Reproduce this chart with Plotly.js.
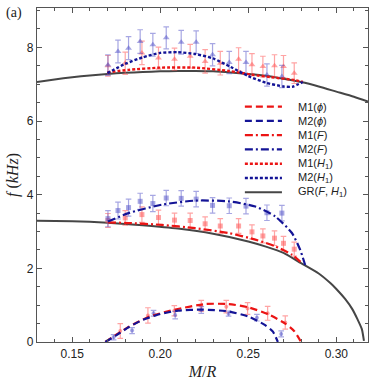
<!DOCTYPE html>
<html><head><meta charset="utf-8">
<script src="https://cdn.plot.ly/plotly-3.0.1.min.js"></script>
<style>html,body{margin:0;padding:0;background:#fff}#plot{width:376px;height:384px}</style>
</head><body><div id="plot"></div>
<script>
// ---- data ----
// GR curves
const grTopX = [0.13,0.14,0.15,0.16,0.17,0.18,0.19,0.20,0.21,0.22,0.23,0.24,0.25,0.26,0.27,0.28,0.29,0.30,0.31,0.318];
const grTopY = [7.06,7.13,7.19,7.24,7.28,7.31,7.33,7.35,7.36,7.36,7.35,7.32,7.28,7.23,7.15,7.06,6.94,6.80,6.66,6.53];
const grMidX = [0.13,0.15,0.17,0.19,0.21,0.23,0.25,0.26,0.27,0.28,0.29,0.2966,0.30,0.305,0.309,0.312,0.3145,0.3157];
const grMidY = [3.29,3.28,3.24,3.17,3.08,2.94,2.73,2.59,2.42,2.14,1.86,1.60,1.44,1.17,0.90,0.62,0.35,0.03];
// phi mode (dashed)
const m1PhiX = [0.1688,0.175,0.182,0.1933,0.2085,0.2255,0.2388,0.2502,0.2615,0.271,0.276,0.2800];
const m1PhiY = [0,0.20,0.41,0.68,0.88,1.03,1.03,0.94,0.75,0.50,0.30,0];
const m2PhiX = [0.1688,0.175,0.182,0.19,0.20,0.21,0.2237,0.2388,0.250,0.2596,0.2640,0.2668];
const m2PhiY = [0,0.18,0.40,0.60,0.76,0.85,0.88,0.83,0.69,0.46,0.28,0];
// F mode (dash-dot)
const m1FX = [0.1703,0.182,0.201,0.2199,0.2388,0.254,0.2653,0.2748,0.2805];
const m1FY = [3.25,3.23,3.18,3.09,2.96,2.78,2.60,2.37,2.14];
const m2FX = [0.1703,0.182,0.201,0.2199,0.2388,0.254,0.2653,0.2748,0.2795,0.2823];
const m2FY = [3.27,3.50,3.73,3.84,3.82,3.68,3.41,2.96,2.50,2.09];
// H1 mode (dotted)
const m1H1X = [0.17,0.182,0.20,0.22,0.239,0.252,0.263,0.2767,0.281];
const m1H1Y = [7.32,7.39,7.45,7.45,7.36,7.26,7.19,7.11,7.06];
const m2H1X = [0.170,0.18,0.19,0.20,0.21,0.22,0.23,0.24,0.25,0.26,0.27,0.275,0.281];
const m2H1Y = [7.30,7.55,7.73,7.85,7.87,7.82,7.70,7.47,7.22,7.04,6.94,6.93,7.06];
// data points with error bars
const redX = [0.1703,0.1801,0.1896,0.1990,0.2081,0.2170,0.2255,0.2341,0.2445,0.2521,0.2583,0.2649,0.2700,0.2761];
const redH1 = [7.50,7.57,7.85,7.71,7.68,7.76,7.62,7.57,7.68,7.53,7.48,7.50,7.48,7.30];
const redH1Err = [0.28,0.30,0.32,0.30,0.30,0.32,0.32,0.32,0.31,0.30,0.28,0.30,0.30,0.28];
const redF = [3.30,3.37,3.46,3.38,3.31,3.30,3.21,3.15,3.15,2.99,2.88,2.82,2.68,2.52];
const redFErr = [0.19,0.20,0.21,0.20,0.19,0.20,0.19,0.20,0.20,0.19,0.19,0.20,0.19,0.19];
const blueX = [0.1703,0.1760,0.1820,0.1886,0.1958,0.2034,0.2119,0.2204,0.2297,0.2392,0.2487,0.2606,0.2691];
const blueH1 = [7.52,7.89,7.98,8.16,8.07,8.26,8.14,8.14,7.80,7.59,7.59,7.25,7.21];
const blueH1Err = [0.28,0.31,0.31,0.32,0.31,0.30,0.32,0.31,0.30,0.30,0.30,0.30,0.30];
const blueF = [3.35,3.57,3.65,3.82,3.76,3.91,3.90,3.88,3.71,3.70,3.69,3.51,3.50];
const blueFErr = [0.22,0.23,0.23,0.22,0.22,0.21,0.21,0.21,0.21,0.21,0.21,0.21,0.21];
const redPhiX = [0.1773,0.1930,0.2080,0.2233,0.2375,0.2496,0.2610,0.2710];
const redPhi = [0.30,0.72,0.85,0.98,0.96,0.91,0.78,0.53];
const redPhiErr = [0.20,0.21,0.14,0.15,0.17,0.16,0.19,0.18];
const bluePhiX = [0.1735,0.1840,0.1962,0.2085,0.2233,0.2388,0.2549,0.2687];
const bluePhi = [0.13,0.31,0.78,0.73,0.87,0.77,0.66,0.22];
const bluePhiErr = [0.07,0.08,0.08,0.10,0.09,0.07,0.09,0.08];
// legend labels
const legendLabels = [
  'M1(<i>ϕ</i>)',
  'M2(<i>ϕ</i>)',
  'M1(<i>F</i>)',
  'M2(<i>F</i>)',
  'M1(<i>H</i><sub>1</sub>)',
  'M2(<i>H</i><sub>1</sub>)',
  'GR(<i>F</i>, <i>H</i><sub>1</sub>)'
];

// ---- styles ----
const RED = 'rgb(235,20,20)', BLUE = 'rgb(20,20,150)', GRAY = 'rgb(70,70,70)';
const RED_PT = 'rgba(255,90,90,0.55)', BLUE_PT = 'rgba(80,80,200,0.5)';
const DASH = '7px,4px', DASHDOT = '8px,3px,2px,3px', DOT = '3px,2px';

function line(x, y, color, dash, w) {
  return {x, y, type:'scatter', mode:'lines', line:{color, dash, width:w||2, shape:'spline', smoothing:0.6}, hoverinfo:'skip'};
}
function pts(x, y, err, color, symbol, size) {
  return {x, y, type:'scatter', mode:'markers',
    marker:{color, symbol, size},
    error_y:{type:'data', array:err, visible:true, color, thickness:1.2, width:2.8},
    hoverinfo:'skip'};
}

const traces = [
  line(grTopX, grTopY, GRAY, 'solid', 2),
  line(grMidX, grMidY, GRAY, 'solid', 2),
  pts(redX, redH1, redH1Err, RED_PT, 'triangle-up', 6),
  pts(blueX, blueH1, blueH1Err, BLUE_PT, 'triangle-up', 6),
  pts(redX, redF, redFErr, RED_PT, 'square', 5),
  pts(blueX, blueF, blueFErr, BLUE_PT, 'square', 5),
  pts(redPhiX, redPhi, redPhiErr, RED_PT, 'circle', 4),
  pts(bluePhiX, bluePhi, bluePhiErr, BLUE_PT, 'circle', 4),
  line(m1H1X, m1H1Y, RED, DOT, 2.4),
  line(m2H1X, m2H1Y, BLUE, DOT, 2.4),
  line(m1FX, m1FY, RED, DASHDOT, 2.2),
  line(m2FX, m2FY, BLUE, DASHDOT, 2.2),
  line(m1PhiX, m1PhiY, RED, DASH, 2.2),
  line(m2PhiX, m2PhiY, BLUE, DASH, 2.2)
];

// legend (drawn manually, compact spacing as in the reference)
const legendStyles = [[RED,DASH,2.2],[BLUE,DASH,2.2],[RED,DASHDOT,2.2],[BLUE,DASHDOT,2.2],[RED,DOT,2.4],[BLUE,DOT,2.4],[GRAY,'solid',2]];
const legTop = 0.705, legStep = 0.0428;
const shapes = [], annotations = [];
legendLabels.forEach((lab, i) => {
  const yy = legTop - i*legStep;
  const st = legendStyles[i];
  shapes.push({type:'line', xref:'paper', yref:'paper', x0:0.628, x1:0.74, y0:yy, y1:yy,
    line:{color:st[0], dash:st[1], width:st[2]}});
  annotations.push({xref:'paper', yref:'paper', x:0.783, y:yy, xanchor:'left', yanchor:'middle',
    text:lab, showarrow:false, font:{family:'Liberation Sans, Arial', size:11, color:'#222'}});
});
annotations.push({xref:'paper', yref:'paper', x:-0.07, y:0.985, xanchor:'center', yanchor:'middle',
  text:'(a)', showarrow:false, font:{family:'Liberation Serif, Times New Roman', size:14, color:'#222'}});

const axCommon = {
  showgrid:false, zeroline:false, showline:true, linecolor:'#555', linewidth:1.2,
  mirror:'ticks', ticks:'inside', ticklen:5, tickcolor:'#555', tickwidth:1,
  tickfont:{family:'Liberation Sans, Arial', size:12, color:'#222'}
};

const layout = {
  width:376, height:384,
  margin:{l:37, r:8, t:8, b:42},
  paper_bgcolor:'#fff', plot_bgcolor:'#fff',
  showlegend:false,
  xaxis: Object.assign({}, axCommon, {
    range:[0.13, 0.318], tick0:0.15, dtick:0.05, tickformat:'.2f',
    minor:{ticks:'inside', ticklen:3, dtick:0.01, tick0:0.13, tickcolor:'#555'},
    title:{text:'<i>M</i>/<i>R</i>', font:{family:'Liberation Serif, Times New Roman', size:16, color:'#222'}, standoff:6}
  }),
  yaxis: Object.assign({}, axCommon, {
    range:[0, 9.07], tick0:0, dtick:2,
    minor:{ticks:'inside', ticklen:3, dtick:0.5, tickcolor:'#555'},
    title:{text:'<i>f</i> (<i>kHz</i>)', font:{family:'Liberation Serif, Times New Roman', size:16, color:'#222'}, standoff:4}
  }),
  shapes, annotations
};

Plotly.newPlot('plot', traces, layout, {staticPlot:true, displayModeBar:false});
</script></body></html>
